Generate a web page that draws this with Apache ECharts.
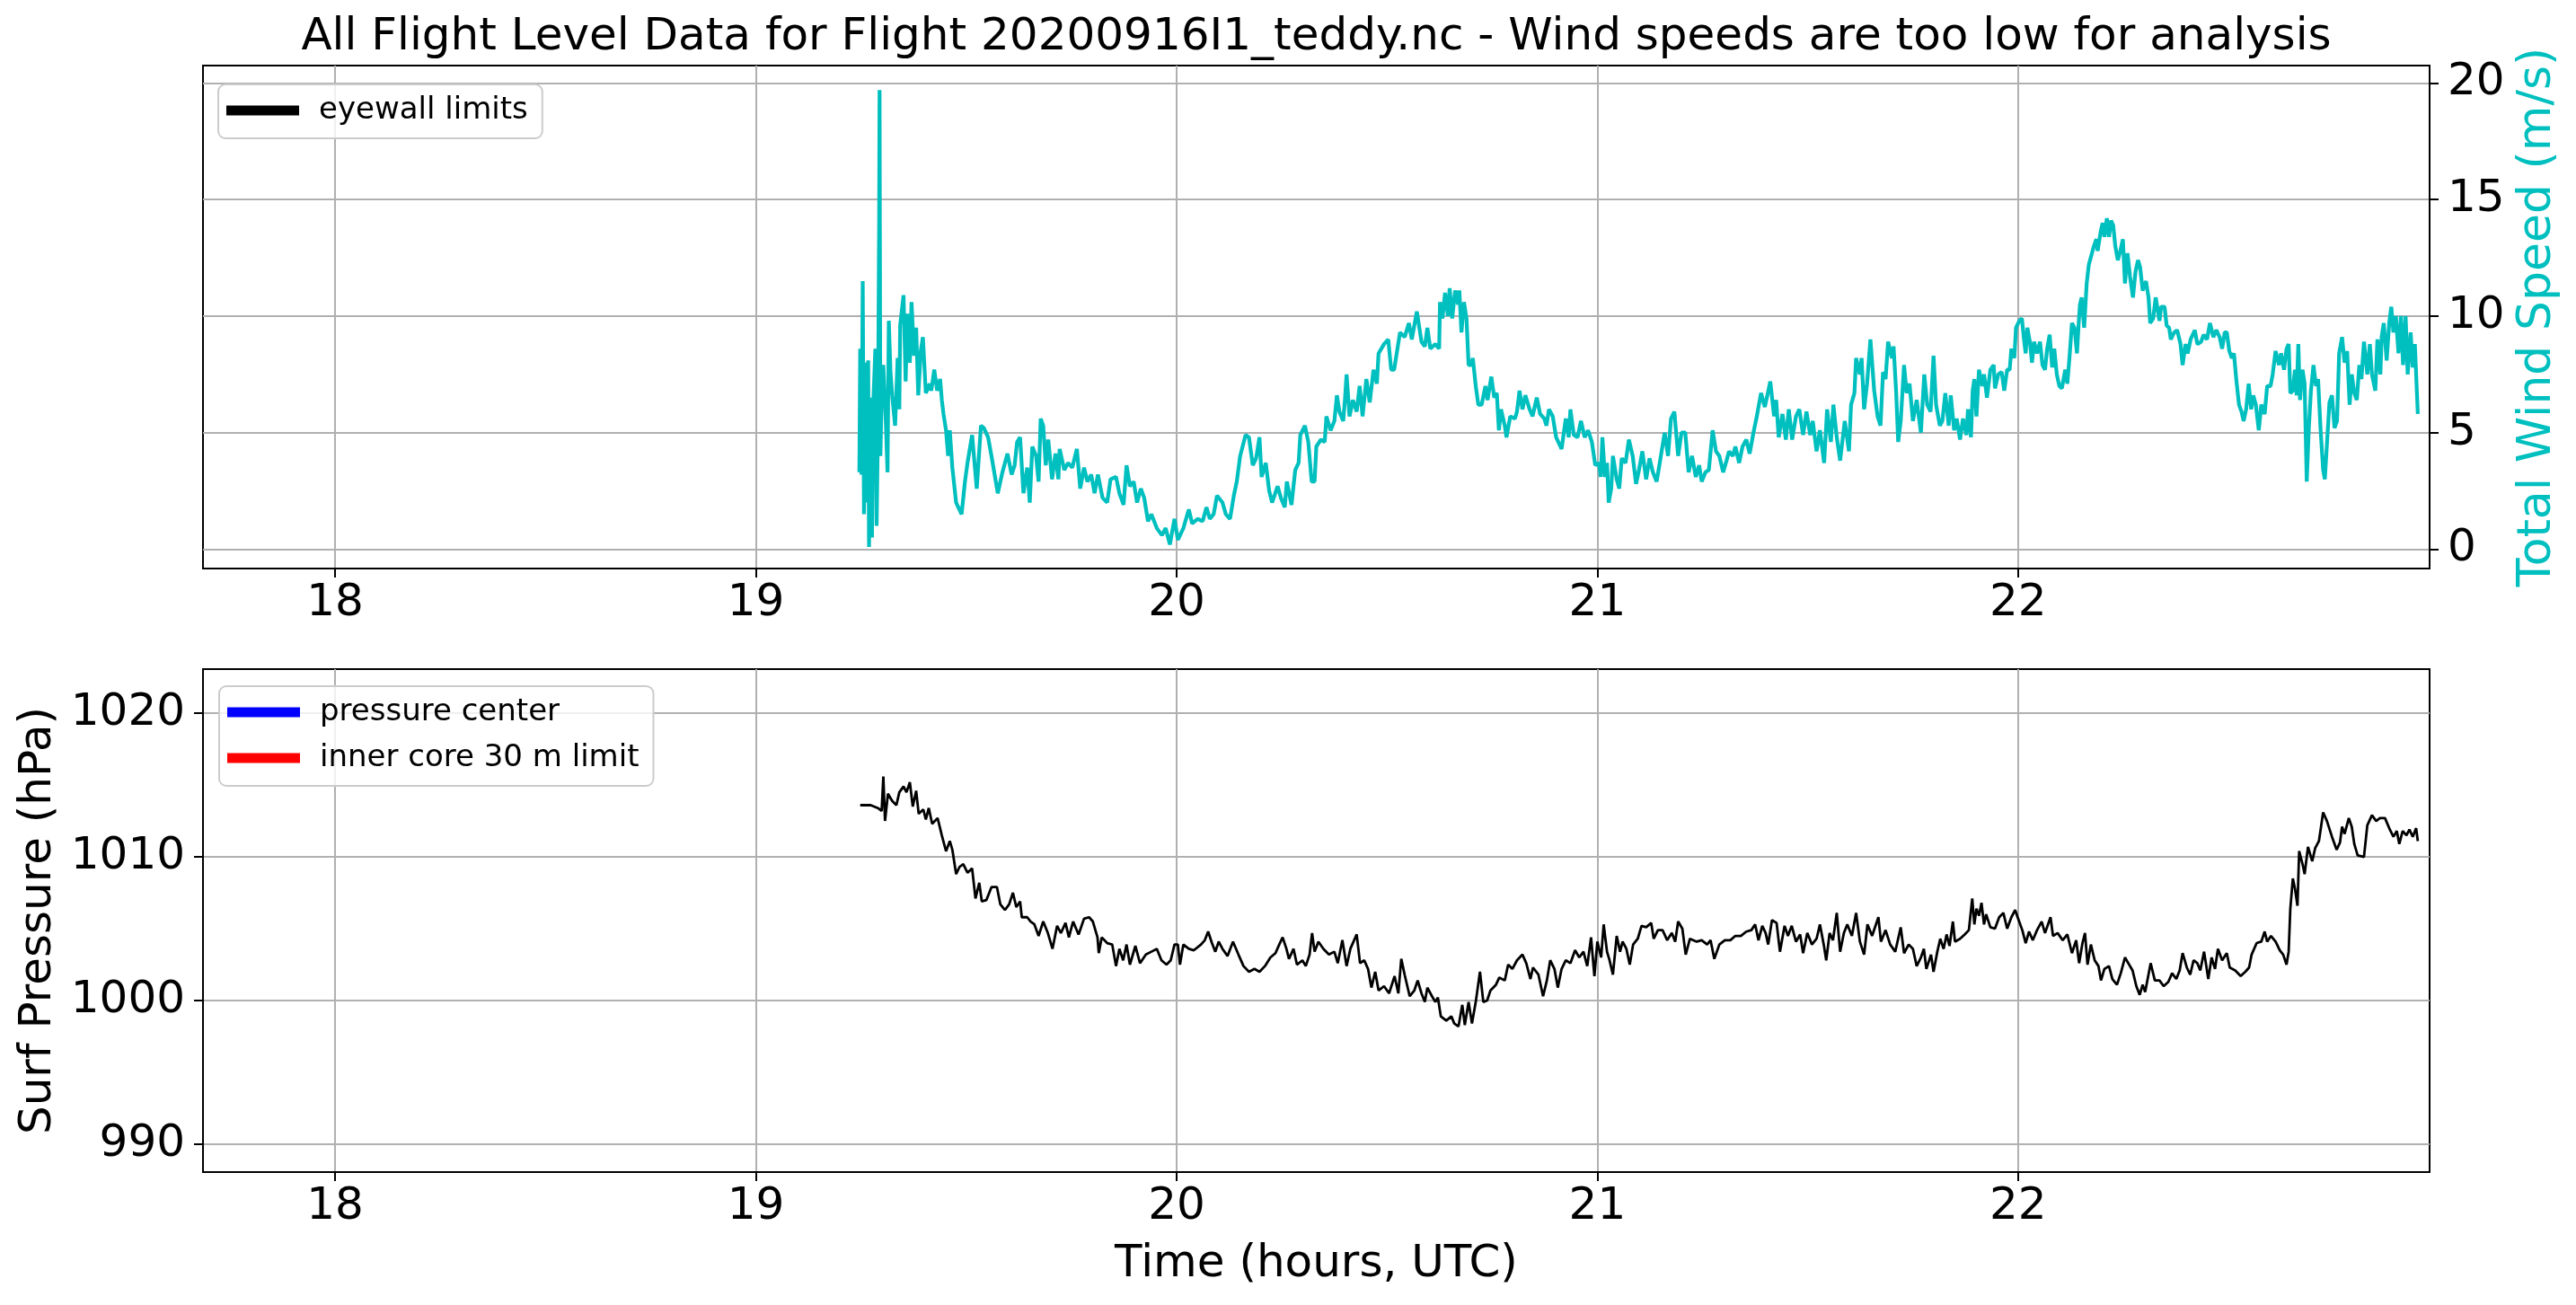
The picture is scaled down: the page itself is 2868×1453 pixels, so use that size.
<!DOCTYPE html>
<html><head><meta charset="utf-8">
<script src="https://cdn.jsdelivr.net/npm/echarts@6/dist/echarts.min.js"></script>
<style>html,body{margin:0;padding:0;background:#fff}#c{width:2868px;height:1453px}</style>
</head><body><div id="c"></div>
<script>
const titleText = 'All Flight Level Data for Flight 20200916I1_teddy.nc - Wind speeds are too low for analysis';
const xTicks = [18, 19, 20, 21, 22];
const windTicks = [0, 5, 10, 15, 20];
const presTicks = [990, 1000, 1010, 1020];

const windT = [19.246,19.248,19.251,19.254,19.257,19.260,19.263,19.267,19.269,19.273,19.276,19.279,19.284,19.287,19.290,19.293,19.294,19.296,19.300,19.303,19.309,19.313,19.316,19.320,19.324,19.331,19.337,19.341,19.343,19.351,19.356,19.360,19.366,19.370,19.376,19.381,19.386,19.392,19.397,19.404,19.413,19.417,19.424,19.431,19.438,19.442,19.446,19.452,19.457,19.461,19.467,19.476,19.489,19.497,19.503,19.514,19.525,19.535,19.542,19.552,19.560,19.575,19.586,19.598,19.608,19.615,19.621,19.628,19.636,19.645,19.651,19.657,19.666,19.672,19.677,19.683,19.689,19.695,19.704,19.712,19.719,19.722,19.733,19.742,19.752,19.763,19.771,19.780,19.788,19.797,19.805,19.813,19.824,19.835,19.843,19.856,19.864,19.874,19.881,19.889,19.898,19.906,19.915,19.923,19.932,19.940,19.953,19.965,19.974,19.984,19.995,20.003,20.016,20.029,20.037,20.050,20.062,20.071,20.079,20.088,20.096,20.109,20.117,20.127,20.136,20.143,20.151,20.164,20.172,20.181,20.189,20.197,20.202,20.212,20.220,20.227,20.240,20.248,20.257,20.262,20.273,20.282,20.290,20.294,20.305,20.313,20.321,20.328,20.332,20.343,20.352,20.356,20.366,20.375,20.381,20.387,20.396,20.400,20.404,20.411,20.419,20.428,20.435,20.442,20.451,20.459,20.468,20.476,20.480,20.493,20.503,20.510,
20.517,20.531,20.542,20.552,20.559,20.571,20.582,20.590,20.596,20.603,20.615,20.624,20.626,20.632,20.638,20.645,20.649,20.655,20.662,20.669,20.672,20.677,20.683,20.689,20.694,20.700,20.704,20.711,20.717,20.725,20.734,20.739,20.748,20.755,20.761,20.766,20.771,20.780,20.784,20.793,20.804,20.809,20.815,20.822,20.829,20.839,20.846,20.856,20.864,20.874,20.879,20.885,20.894,20.902,20.906,20.915,20.925,20.932,20.936,20.944,20.953,20.961,20.970,20.978,20.987,20.995,21.004,21.008,21.012,21.018,21.023,21.027,21.033,21.037,21.046,21.052,21.058,21.067,21.075,21.084,21.092,21.099,21.107,21.116,21.124,21.132,21.141,21.151,21.160,21.168,21.175,21.183,21.192,21.200,21.209,21.217,21.225,21.234,21.242,21.248,21.257,21.265,21.274,21.282,21.290,21.299,21.307,21.313,21.322,21.328,21.337,21.345,21.354,21.362,21.371,21.379,21.389,21.398,21.404,21.411,21.420,21.425,21.431,21.440,21.448,21.455,21.463,21.472,21.480,21.489,21.497,21.506,21.512,21.521,21.529,21.539,21.546,21.555,21.561,21.569,21.577,21.588,21.598,21.603,21.611,21.615,21.624,21.628,21.634,21.641,21.649,21.658,21.666,21.673,21.679,21.685,21.691,21.700,21.704,21.710,21.715,21.721,21.729,21.735,21.742,21.750,21.759,21.769,21.777,21.784,21.792,21.799,21.805,21.814,
21.820,21.827,21.835,21.840,21.848,21.854,21.862,21.869,21.877,21.881,21.888,21.892,21.896,21.901,21.907,21.915,21.919,21.926,21.934,21.942,21.945,21.953,21.961,21.967,21.974,21.980,21.984,21.991,21.995,22.003,22.009,22.014,22.018,22.022,22.028,22.033,22.038,22.045,22.052,22.058,22.064,22.069,22.075,22.081,22.086,22.092,22.098,22.104,22.112,22.117,22.122,22.128,22.134,22.140,22.144,22.147,22.151,22.157,22.163,22.168,22.174,22.180,22.186,22.189,22.196,22.201,22.205,22.211,22.216,22.221,22.226,22.231,22.237,22.243,22.249,22.254,22.260,22.266,22.273,22.279,22.285,22.290,22.296,22.304,22.310,22.314,22.321,22.327,22.336,22.340,22.348,22.353,22.359,22.363,22.371,22.378,22.386,22.391,22.398,22.403,22.410,22.420,22.426,22.435,22.441,22.449,22.456,22.464,22.471,22.479,22.485,22.491,22.496,22.502,22.508,22.513,22.519,22.525,22.531,22.536,22.542,22.548,22.554,22.559,22.565,22.572,22.578,22.586,22.592,22.600,22.605,22.612,22.620,22.625,22.632,22.638,22.643,22.647,22.653,22.658,22.662,22.666,22.670,22.676,22.681,22.686,22.691,22.696,22.702,22.708,22.713,22.719,22.725,22.729,22.734,22.740,22.746,22.752,22.758,22.763,22.770,22.776,22.782,22.788,22.793,22.799,22.805,22.811,22.816,22.822,22.830,22.836,22.841,22.849,22.854,22.861,22.864,22.869,22.876,22.882,22.887,22.892,22.898,22.904,22.910,22.915,22.921,22.926,22.933,22.938,22.943,22.946,22.950];

const windV = [3.3,8.6,3.2,11.5,1.5,8.0,2.0,8.1,0.1,6.5,0.5,6.2,8.6,1.0,5.0,14.0,19.7,4.0,7.5,7.9,5.4,3.3,9.8,7.6,6.6,5.3,8.2,6.0,9.6,10.9,7.2,10.1,8.0,10.6,8.3,9.5,6.6,8.5,9.1,6.7,7.1,6.8,7.7,6.8,7.3,6.4,5.8,5.1,4.0,5.1,3.5,2.0,1.5,2.9,3.7,4.9,2.6,5.3,5.2,4.8,4.0,2.4,3.3,4.1,3.2,3.6,4.6,4.8,2.4,3.5,2.0,4.4,4.0,2.9,5.6,5.3,3.6,4.7,3.0,4.1,3.0,4.3,3.4,3.7,3.5,4.3,2.6,3.5,2.9,3.2,2.4,3.2,2.2,2.0,3.0,3.1,2.4,1.9,3.6,2.7,2.9,2.0,2.6,2.2,1.2,1.5,0.9,0.6,0.9,0.2,1.3,0.4,0.9,1.7,1.1,1.3,1.2,1.8,1.3,1.5,2.3,2.0,1.5,1.3,2.3,2.9,4.0,4.9,4.8,3.6,3.9,4.8,3.1,3.7,2.5,2.0,2.7,2.2,1.8,2.9,1.9,3.4,3.7,4.9,5.3,4.6,2.9,2.9,4.4,4.7,4.6,5.7,5.1,5.5,6.6,5.9,5.5,6.4,7.5,5.7,6.4,5.9,7.0,5.7,7.3,6.3,7.7,7.1,8.4,8.8,9.0,7.7,
7.7,9.3,9.1,9.7,9.0,10.2,8.9,8.7,9.5,8.6,8.8,8.6,10.6,9.9,11.0,10.0,11.2,9.9,11.1,10.5,11.1,9.3,10.6,9.9,7.9,7.9,8.2,7.0,6.2,6.2,7.0,6.4,7.4,6.5,6.7,5.1,6.0,5.3,4.8,5.7,5.6,5.9,6.8,6.0,6.6,6.0,5.7,6.5,5.8,5.6,5.3,6.0,5.7,4.8,4.8,4.3,5.6,4.8,6.0,4.9,4.8,5.5,4.8,5.1,4.6,3.6,3.7,3.1,4.8,3.1,3.7,2.0,2.6,4.0,3.0,2.6,3.9,3.7,4.7,4.0,2.8,3.4,4.2,3.0,3.9,3.3,2.9,4.0,5.0,4.0,5.6,5.9,4.0,5.0,5.0,3.3,4.0,3.1,3.6,2.9,3.3,3.4,5.1,4.2,4.0,3.3,3.8,4.2,4.0,4.4,3.7,4.4,4.7,4.1,5.0,5.7,6.7,6.1,6.6,7.2,5.7,6.4,4.8,5.8,4.7,6.0,4.7,5.7,6.0,4.9,5.9,4.9,5.5,4.2,5.1,3.7,6.0,4.6,6.2,4.8,3.8,5.5,4.2,6.2,6.7,8.2,7.5,8.2,6.0,7.1,9.0,6.8,5.7,5.3,7.6,7.3,8.9,8.2,8.7,6.8,4.6,5.5,7.9,6.7,7.1,5.5,6.4,5.0,7.5,6.2,5.9,8.3,6.2,5.3,
5.5,6.7,5.3,6.6,5.1,5.6,4.7,5.6,4.9,6.0,4.8,6.8,7.3,5.7,7.7,7.0,7.5,6.5,7.7,7.9,6.9,7.5,7.6,6.8,7.7,7.7,8.6,8.2,9.5,9.8,9.9,9.0,8.4,9.5,8.9,8.0,8.9,8.4,8.9,7.9,7.7,8.6,9.2,7.8,8.6,7.5,7.0,6.9,7.7,7.1,8.2,9.7,9.5,8.4,9.7,10.5,10.8,9.5,11.4,12.2,12.6,13.0,13.3,12.8,13.6,14.0,13.4,14.2,13.4,14.1,13.9,13.0,12.4,12.8,13.3,11.4,12.7,11.7,10.8,11.9,12.4,12.1,11.1,11.5,10.8,9.7,9.9,10.8,9.8,10.4,10.4,9.6,9.5,9.0,9.3,9.4,8.8,7.9,8.8,8.4,9.0,9.4,8.8,8.9,9.2,9.0,9.7,9.1,9.4,9.1,8.6,9.3,9.3,8.5,8.2,8.4,7.2,6.2,5.9,5.5,6.0,7.1,6.0,6.6,6.2,5.1,6.2,5.8,7.0,7.0,7.5,8.5,7.9,8.4,7.7,8.6,8.8,6.7,6.8,7.7,6.6,8.8,6.4,7.7,7.1,2.9,5.2,6.8,7.9,7.0,7.3,5.1,3.4,3.0,4.5,6.3,6.6,5.2,5.5,8.4,9.1,8.0,8.5,6.2,7.5,6.7,6.4,7.9,7.3,8.9,7.5,8.8,7.5,6.8,9.0,7.5,9.1,9.7,8.1,9.7,10.4,9.3,10.0,8.4,10.0,7.9,10.0,7.5,9.3,7.8,8.8,7.5,5.8];

const presT = [19.248,19.273,19.290,19.299,19.303,19.307,19.314,19.324,19.334,19.341,19.351,19.358,19.366,19.373,19.381,19.387,19.398,19.404,19.411,19.419,19.432,19.442,19.452,19.461,19.467,19.476,19.484,19.493,19.503,19.514,19.522,19.531,19.537,19.548,19.560,19.573,19.581,19.592,19.602,19.611,19.619,19.628,19.632,19.645,19.653,19.662,19.672,19.683,19.694,19.705,19.716,19.725,19.736,19.744,19.754,19.767,19.780,19.792,19.801,19.812,19.815,19.822,19.835,19.847,19.856,19.864,19.873,19.881,19.889,19.902,19.913,19.927,19.940,19.953,19.964,19.976,19.986,19.995,20.003,20.008,20.016,20.029,20.041,20.058,20.067,20.075,20.084,20.092,20.100,20.109,20.121,20.134,20.147,20.159,20.172,20.185,20.197,20.210,20.223,20.235,20.244,20.252,20.261,20.267,20.278,20.286,20.299,20.307,20.316,20.322,20.328,20.337,20.349,20.362,20.375,20.383,20.394,20.404,20.413,20.428,20.436,20.446,20.455,20.463,20.472,20.480,20.493,20.505,
20.518,20.527,20.534,20.542,20.554,20.565,20.573,20.582,20.590,20.596,20.607,20.615,20.621,20.628,20.641,20.653,20.660,20.670,20.679,20.685,20.694,20.702,20.711,20.721,20.729,20.738,20.746,20.759,20.767,20.780,20.788,20.798,20.809,20.822,20.831,20.841,20.847,20.860,20.871,20.880,20.888,20.898,20.906,20.915,20.925,20.936,20.947,20.957,20.967,20.976,20.985,20.993,21.000,21.009,21.015,21.023,21.029,21.037,21.046,21.054,21.060,21.069,21.077,21.085,21.096,21.105,21.116,21.128,21.134,21.144,21.155,21.166,21.177,21.185,21.192,21.202,21.210,21.220,21.236,21.248,21.261,21.269,21.278,21.290,21.303,21.316,21.328,21.341,21.354,21.366,21.375,21.383,21.392,21.400,21.406,21.415,21.426,21.434,21.445,21.453,21.462,21.472,21.482,21.489,21.499,21.510,21.521,21.529,21.538,21.544,21.552,21.560,21.569,21.577,21.586,21.594,21.605,21.615,21.624,21.634,21.642,21.653,21.668,21.674,21.685,21.696,21.708,21.721,21.729,21.740,21.750,21.759,21.769,21.776,21.782,21.793,21.799,21.808,21.815,
21.823,21.830,21.837,21.845,21.850,21.862,21.873,21.883,21.891,21.896,21.901,21.907,21.913,21.919,21.924,21.934,21.945,21.955,21.965,21.974,21.984,21.993,22.000,22.010,22.018,22.026,22.035,22.045,22.056,22.064,22.077,22.083,22.094,22.106,22.117,22.128,22.138,22.145,22.153,22.159,22.165,22.173,22.182,22.191,22.197,22.205,22.216,22.224,22.235,22.244,22.254,22.262,22.272,22.281,22.289,22.296,22.302,22.315,22.325,22.336,22.346,22.357,22.366,22.376,22.384,22.391,22.401,22.409,22.417,22.426,22.433,22.442,22.452,22.460,22.468,22.475,22.485,22.496,22.503,22.516,22.529,22.540,22.549,22.555,22.567,22.578,22.586,22.592,22.601,22.612,22.622,22.630,22.638,22.643,22.647,22.653,22.658,22.664,22.668,22.676,22.681,22.689,22.699,22.706,22.715,22.725,22.734,22.746,22.757,22.765,22.770,22.776,22.786,22.793,22.799,22.807,22.822,22.830,22.841,22.851,22.860,22.872,22.882,22.892,22.900,22.906,22.914,22.923,22.930,22.938,22.946,22.950];

const presV = [1013.6,1013.6,1013.4,1013.2,1015.6,1012.5,1014.4,1013.9,1013.6,1014.5,1014.9,1014.5,1015.2,1013.5,1014.6,1013.0,1013.3,1012.6,1013.4,1012.3,1012.7,1011.5,1010.4,1011.1,1010.5,1008.8,1009.3,1009.5,1008.9,1009.2,1007.1,1008.2,1006.9,1007.0,1007.9,1007.9,1006.7,1006.3,1006.7,1007.5,1006.5,1006.9,1005.8,1005.8,1005.5,1005.3,1004.5,1005.5,1004.7,1003.6,1005.2,1004.7,1005.4,1004.4,1005.5,1004.6,1005.7,1005.8,1005.5,1004.4,1003.3,1004.4,1004.0,1003.9,1002.4,1003.6,1002.8,1003.9,1002.5,1003.8,1002.6,1003.2,1003.4,1003.6,1002.8,1002.5,1002.8,1003.9,1003.9,1002.5,1003.9,1003.6,1003.5,1003.9,1004.2,1004.8,1004.0,1003.4,1004.1,1003.6,1003.1,1004.1,1003.2,1002.4,1002.0,1002.2,1002.0,1002.4,1003.0,1003.3,1003.9,1004.4,1003.6,1002.9,1003.6,1002.5,1002.8,1002.4,1003.2,1004.7,1003.4,1004.1,1003.6,1003.2,1003.4,1002.6,1004.2,1002.4,1003.6,1004.6,1002.6,1002.8,1002.2,1000.9,1002.0,1000.7,1001.0,1000.5,
1001.7,1000.5,1002.9,1001.8,1000.3,1000.7,1001.4,1000.5,999.9,1000.9,1000.3,999.9,1000.2,998.9,998.6,998.9,998.4,998.2,999.7,998.3,999.9,998.4,999.9,1002.0,999.9,1000.0,1000.7,1001.1,1001.6,1001.4,1002.5,1002.2,1002.8,1003.2,1002.6,1001.5,1002.3,1001.8,1000.3,1001.4,1002.8,1002.2,1000.9,1002.2,1002.8,1002.6,1003.5,1003.0,1003.4,1002.4,1004.4,1001.7,1004.1,1003.0,1005.3,1003.4,1002.8,1001.8,1004.5,1003.4,1004.1,1003.6,1002.5,1003.9,1004.3,1005.2,1005.1,1005.4,1004.3,1004.9,1004.9,1004.2,1004.7,1004.1,1005.5,1005.0,1003.2,1004.3,1004.1,1004.2,1003.9,1004.2,1002.9,1003.9,1004.2,1004.2,1004.5,1004.5,1004.8,1004.9,1005.3,1004.2,1005.2,1004.7,1003.9,1005.6,1005.4,1003.4,1005.2,1004.5,1005.2,1004.1,1004.6,1003.3,1004.7,1003.9,1004.3,1005.3,1003.9,1002.8,1004.7,1004.2,1006.1,1003.4,1004.7,1005.3,1004.5,1006.1,1004.1,1003.2,1005.3,1004.5,1005.8,1004.1,1004.9,1003.9,1003.4,1005.1,1003.3,1003.9,1003.6,1002.4,1003.0,1003.6,1002.2,1003.2,1002.0,1003.4,1004.3,
1003.6,1004.6,1003.8,1005.5,1004.1,1004.3,1004.6,1004.9,1007.1,1005.3,1006.4,1005.9,1006.8,1005.3,1006.0,1005.1,1005.0,1005.8,1006.1,1005.0,1005.8,1006.3,1005.7,1004.9,1004.0,1004.8,1004.2,1004.9,1005.5,1004.7,1005.8,1004.5,1004.7,1004.2,1004.6,1003.3,1004.2,1002.6,1004.0,1004.7,1002.5,1003.9,1002.8,1002.4,1001.4,1002.2,1002.4,1001.5,1001.1,1001.9,1003.0,1002.6,1002.1,1001.0,1000.4,1001.1,1000.6,1002.6,1001.4,1001.4,1001.0,1001.3,1001.9,1001.5,1002.1,1003.3,1002.3,1001.8,1002.8,1002.6,1002.1,1003.4,1001.5,1003.0,1002.2,1003.6,1002.8,1003.3,1002.3,1002.1,1001.7,1002.0,1002.3,1003.2,1004.0,1004.1,1004.8,1004.1,1004.5,1004.1,1003.5,1003.2,1002.5,1003.4,1006.4,1008.5,1007.8,1006.6,1010.4,1009.5,1008.8,1010.7,1009.7,1010.6,1011.1,1013.1,1012.5,1011.4,1010.5,1011.0,1012.1,1011.6,1012.7,1012.1,1010.9,1010.1,1010.0,1012.2,1012.9,1012.5,1012.7,1012.7,1012.0,1011.4,1011.8,1010.9,1011.8,1011.5,1011.9,1011.4,1012.0,1011.1];

const windData = windT.map((t, i) => [t, windV[i]]);
const presData = presT.map((t, i) => [t, presV[i]]);

const FONT = 'DejaVu Sans';
const TITLE_SIZE = 50;
const cv = document.createElement('canvas').getContext('2d');
cv.font = TITLE_SIZE + 'px "DejaVu Sans"';
const titleW = cv.measureText(titleText).width;
const plotL = 226, plotR = 2705;
const titleLeft = (plotL + plotR) / 2 - titleW / 2;

const gridLine = {show: true, lineStyle: {color: '#b0b0b0', width: 2}};
const tickStyle = {show: true, length: 10, inside: false, lineStyle: {color: '#000', width: 2}};
const axLine = {show: true, onZero: false, lineStyle: {color: '#000', width: 2}};
const plain = v => String(v);

function xAxisDef(gi, extra) {
  return Object.assign({
    gridIndex: gi, type: 'value', min: 17.686, max: 22.978,
    axisLine: axLine,
    axisTick: Object.assign({customValues: xTicks}, tickStyle),
    axisLabel: {customValues: xTicks, formatter: plain, fontSize: 50, color: '#000', fontFamily: FONT, margin: 14},
    splitLine: gridLine
  }, extra || {});
}

const legendCommon = {
  orient: 'vertical',
  itemWidth: 81, itemHeight: 11, itemGap: 17,
  padding: [12, 16, 14, 9],
  backgroundColor: 'rgba(255,255,255,0.8)', borderColor: '#cccccc', borderWidth: 2, borderRadius: 8,
  textStyle: {fontSize: 34, color: '#000', fontFamily: FONT, padding: [0, 0, 0, 17]},
  selectedMode: false
};

const option = {
  animation: false,
  backgroundColor: '#ffffff',
  textStyle: {fontFamily: FONT},
  title: {
    text: titleText, left: titleLeft, top: 17, padding: 0,
    textStyle: {fontSize: TITLE_SIZE, fontWeight: 'normal', color: '#000', fontFamily: FONT}
  },
  grid: [
    {left: plotL, top: 73, width: plotR - plotL, height: 560, show: true, borderColor: '#000', borderWidth: 2, backgroundColor: 'transparent'},
    {left: plotL, top: 745, width: plotR - plotL, height: 560, show: true, borderColor: '#000', borderWidth: 2, backgroundColor: 'transparent'}
  ],
  xAxis: [
    xAxisDef(0),
    xAxisDef(1, {name: 'Time (hours, UTC)', nameLocation: 'middle', nameGap: 78,
      nameTextStyle: {fontSize: 50, color: '#000', fontFamily: FONT}})
  ],
  yAxis: [
    {
      gridIndex: 0, type: 'value', position: 'right', min: -0.83, max: 20.75,
      name: 'Total Wind Speed (m/s)', nameLocation: 'middle', nameRotate: 90, nameGap: 88,
      nameTextStyle: {fontSize: 52, color: '#00BFBF', fontFamily: FONT},
      axisLine: axLine,
      axisTick: Object.assign({customValues: windTicks}, tickStyle),
      axisLabel: {customValues: windTicks, formatter: plain, fontSize: 50, color: '#000', fontFamily: FONT, margin: 20},
      splitLine: gridLine
    },
    {
      gridIndex: 1, type: 'value', position: 'left', min: 988.06, max: 1023.07,
      name: 'Surf Pressure (hPa)', nameLocation: 'middle', nameRotate: 90, nameGap: 158,
      nameTextStyle: {fontSize: 50, color: '#000', fontFamily: FONT},
      axisLine: axLine,
      axisTick: Object.assign({customValues: presTicks}, tickStyle),
      axisLabel: {customValues: presTicks, formatter: plain, fontSize: 50, color: '#000', fontFamily: FONT, margin: 20},
      splitLine: gridLine
    }
  ],
  legend: [
    Object.assign({data: [{name: 'eyewall limits', icon: 'rect'}], left: 243, top: 94}, legendCommon),
    Object.assign({data: [{name: 'pressure center', icon: 'rect'}, {name: 'inner core 30 m limit', icon: 'rect'}],
      left: 244, top: 764}, legendCommon)
  ],
  series: [
    {name: 'Total Wind Speed', type: 'line', xAxisIndex: 0, yAxisIndex: 0, data: windData,
      showSymbol: false, color: '#00BFBF', lineStyle: {color: '#00BFBF', width: 4.2}, z: 3},
    {name: 'eyewall limits', type: 'line', xAxisIndex: 0, yAxisIndex: 0, data: [],
      color: '#000000', lineStyle: {color: '#000000', width: 11}},
    {name: 'Surf Pressure', type: 'line', xAxisIndex: 1, yAxisIndex: 1, data: presData,
      showSymbol: false, color: '#000000', lineStyle: {color: '#000000', width: 2.8}, z: 3},
    {name: 'pressure center', type: 'line', xAxisIndex: 1, yAxisIndex: 1, data: [],
      color: '#0000FF', lineStyle: {color: '#0000FF', width: 11}},
    {name: 'inner core 30 m limit', type: 'line', xAxisIndex: 1, yAxisIndex: 1, data: [],
      color: '#FF0000', lineStyle: {color: '#FF0000', width: 11}}
  ]
};

const chart = echarts.init(document.getElementById('c'), null, {renderer: 'canvas'});
chart.setOption(option);
</script>
</body></html>
